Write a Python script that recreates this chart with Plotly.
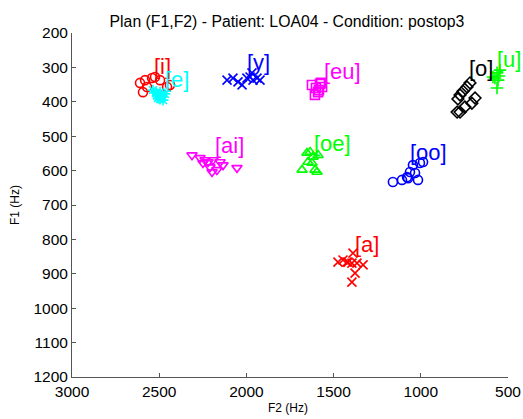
import plotly.graph_objects as go

title = "Plan (F1,F2) - Patient: LOA04 - Condition: postop3"

vowels = ["[i]", "[e]", "[y]", "[eu]", "[o]", "[u]", "[ai]", "[oe]", "[oo]", "[a]"]
colors = ["#ff0000", "#00ffff", "#0000ff", "#ff00ff", "#000000", "#00ff00",
          "#ff00ff", "#00ff00", "#0000ff", "#ff0000"]
symbols = ["circle-open", "asterisk-open", "x-thin-open", "square-open", "diamond-open",
           "cross-thin-open", "triangle-down-open", "triangle-up-open", "circle-open", "x-thin-open"]

f2_i = [2610, 2581, 2570, 2593, 2541, 2524, 2455, 2438, 2495]
f1_i = [345, 337, 357, 372, 331, 328, 357, 351, 337]
f2_e = [2536, 2518, 2507, 2495, 2484, 2478, 2467, 2495, 2507, 2512]
f1_e = [366, 374, 380, 372, 386, 395, 377, 392, 389, 383]
f2_y = [2111, 2077, 2048, 2025, 1997, 1968, 1962, 1939, 1922, 1979]
f1_y = [337, 331, 342, 351, 331, 316, 337, 331, 337, 328]
f2_eu = [1624, 1601, 1578, 1589, 1566, 1607, 1584, 1572]
f1_eu = [351, 360, 348, 372, 357, 380, 366, 345]
f2_o = [718, 735, 758, 775, 787, 689, 707, 747, 775, 792]
f1_o = [345, 357, 369, 380, 392, 389, 404, 415, 430, 430]
f2_u = [546, 563, 586, 575, 557, 563, 552]
f1_u = [308, 316, 328, 331, 337, 360, 325]
f2_ai = [2312, 2266, 2237, 2220, 2192, 2151, 2134, 2209, 2197, 2169, 2054, 2249]
f1_ai = [555, 563, 569, 575, 569, 575, 584, 590, 604, 598, 592, 578]
f2_oe = [1681, 1653, 1635, 1618, 1589, 1624, 1607, 1595, 1647]
f1_oe = [598, 549, 546, 560, 555, 578, 598, 604, 575]
f2_oo = [1160, 1108, 1079, 1062, 1033, 1016, 1045, 1005, 987, 1073]
f1_oo = [633, 627, 619, 604, 607, 627, 584, 578, 575, 622]
f2_a = [1475, 1446, 1423, 1389, 1395, 1366, 1331, 1377, 1395, 1417]
f1_a = [866, 860, 866, 840, 869, 869, 874, 898, 924, 866]

label_f2 = [2541, 2478, 2008, 1566, 735, 575, 2192, 1624, 1073, 1389]
label_f1 = [296, 334, 287, 313, 302, 278, 526, 520, 546, 816]

xticks = [3000, 2500, 2000, 1500, 1000, 500]
yticks = [200, 300, 400, 500, 600, 700, 800, 900, 1000, 1100, 1200]

series_f2 = [f2_i, f2_e, f2_y, f2_eu, f2_o, f2_u, f2_ai, f2_oe, f2_oo, f2_a]
series_f1 = [f1_i, f1_e, f1_y, f1_eu, f1_o, f1_u, f1_ai, f1_oe, f1_oo, f1_a]

FONT = "Liberation Sans, Arial, Helvetica"

fig = go.Figure()
for name, c, s, xs, ys in zip(vowels, colors, symbols, series_f2, series_f1):
    fig.add_trace(go.Scatter(
        x=xs, y=ys, mode="markers", name=name,
        marker=dict(symbol=s, size=9, color=c, line=dict(color=c, width=1.6)),
        showlegend=False, cliponaxis=False,
    ))

for name, c, lx, ly in zip(vowels, colors, label_f2, label_f1):
    fig.add_annotation(x=lx, y=ly, text=name, showarrow=False,
                       xanchor="left", yanchor="middle",
                       font=dict(family=FONT, size=22, color=c))

# axis titles
fig.add_annotation(xref="paper", yref="paper", x=0.495, y=-0.090, text="F2 (Hz)",
                   showarrow=False, xanchor="center", yanchor="middle",
                   font=dict(family=FONT, size=12, color="black"))
fig.add_annotation(xref="paper", yref="paper", x=-0.1307, y=0.5, text="F1 (Hz)",
                   showarrow=False, xanchor="center", yanchor="middle", textangle=-90,
                   font=dict(family=FONT, size=12, color="black"))

axis_common = dict(showgrid=False, zeroline=False, showline=True, linecolor="#555555",
                   linewidth=1, ticks="inside", ticklen=4, tickcolor="#555555",
                   tickfont=dict(family=FONT, size=15.5, color="black"),
                   mirror=False, automargin=False)

fig.update_layout(
    width=523, height=419,
    margin=dict(l=72, r=15, t=33, b=42, autoexpand=False),
    paper_bgcolor="white", plot_bgcolor="white",
    title=dict(text=title, xref="paper", yref="container", x=0.493, xanchor="center",
               y=0.948, yanchor="middle",
               font=dict(family=FONT, size=15.8, color="black")),
    xaxis=dict(range=[3000, 500], tickvals=xticks, **axis_common),
    yaxis=dict(range=[1200, 200], tickvals=yticks, **axis_common),
)

fig.write_html("out.html", config={"displayModeBar": False},
               post_script="document.body.style.margin='0px';document.body.style.overflow='hidden';")
